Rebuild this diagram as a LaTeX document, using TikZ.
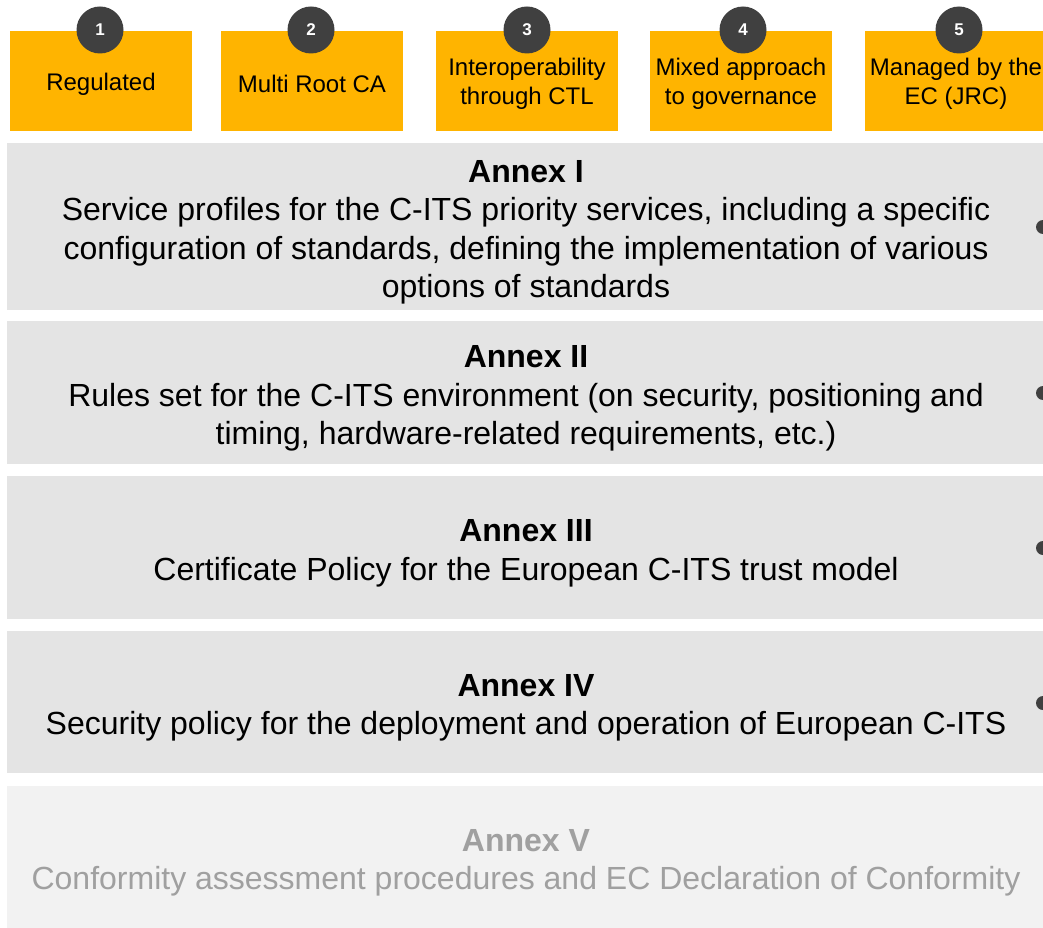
\documentclass[tikz,border=0pt]{standalone}
\usepackage{fontspec}
\setmainfont{Liberation Sans}
\definecolor{ambr}{HTML}{FFB400}
\definecolor{darkc}{HTML}{404040}
\definecolor{bandg}{HTML}{E4E4E4}
\definecolor{bandl}{HTML}{F2F2F2}
\definecolor{fadet}{HTML}{A0A0A0}
\tikzset{
  topbox/.style={fill=ambr, draw=none, minimum width=182pt, minimum height=100pt, inner sep=0pt},
  toptext/.style={inner sep=0pt, align=center, font=\fontsize{24}{28.8}\selectfont},
  numc/.style={circle, fill=darkc, draw=none, minimum size=47pt, inner sep=0pt, text=white, font=\fontsize{17}{17}\selectfont\bfseries},
  band/.style={fill=bandg, draw=none, minimum width=1046pt, inner sep=0pt},
  bandfade/.style={band, fill=bandl},
  bandtext/.style={inner sep=0pt, align=center, font=\fontsize{32}{38.4}\selectfont},
  sidedot/.style={circle, fill=darkc, draw=none, minimum size=14pt, inner sep=0pt},
}
\begin{document}
\begin{tikzpicture}[x=1pt,y=-1pt]
\useasboundingbox (0,0) rectangle (1043,928);
\clip (0,0) rectangle (1043,928);
\fill[white] (0,0) rectangle (1043,928);
% top boxes
\node[topbox] (t1) at (101,81) {};
\node[topbox] (t2) at (312,81) {};
\node[topbox] (t3) at (527,81) {};
\node[topbox] (t4) at (741,81) {};
\node[topbox] (t5) at (956,81) {};
\node[toptext] (tt1) at ([yshift=-3pt]t1.center) {Regulated};
\node[toptext] (tt2) at ([yshift=-3pt]t2.center) {Multi Root CA};
\node[toptext] (tt3) at ([yshift=-3pt]t3.center) {Interoperability\\through CTL};
\node[toptext] (tt4) at ([yshift=-3pt]t4.center) {Mixed approach\\to governance};
\node[toptext] (tt5) at ([yshift=-3pt]t5.center) {Managed by the\\EC (JRC)};
\node[numc] (n1) at (100,30) {1};
\node[numc] (n2) at (311,30) {2};
\node[numc] (n3) at (527,30) {3};
\node[numc] (n4) at (743,30) {4};
\node[numc] (n5) at (959,30) {5};
% bands
\node[band, minimum height=167pt] (b1) at (530,226.5) {};
\node[band, minimum height=143pt] (b2) at (530,392.5) {};
\node[band, minimum height=143pt] (b3) at (530,547.5) {};
\node[band, minimum height=142pt] (b4) at (530,702) {};
\node[bandfade, minimum height=142pt] (b5) at (530,857) {};
\node[bandtext] (l1) at ([xshift=-4pt,yshift=-6pt]b1.center) {\textbf{Annex I}\\Service profiles for the C-ITS priority services, including a specific\\configuration of standards, defining the implementation of various\\options of standards};
\node[bandtext] (l2) at ([xshift=-4pt,yshift=-6pt]b2.center) {\textbf{Annex II}\\Rules set for the C-ITS environment (on security, positioning and\\timing, hardware-related requirements, etc.)};
\node[bandtext] (l3) at ([xshift=-4pt,yshift=-6pt]b3.center) {\textbf{Annex III}\\Certificate Policy for the European C-ITS trust model};
\node[bandtext] (l4) at ([xshift=-4pt,yshift=-6pt]b4.center) {\textbf{Annex IV}\\Security policy for the deployment and operation of European C-ITS};
\node[bandtext, text=fadet] (l5) at ([xshift=-4pt,yshift=-6pt]b5.center) {\textbf{Annex V}\\Conformity assessment procedures and EC Declaration of Conformity};
% side dots
\node[sidedot] (d1) at (1043,227) {};
\node[sidedot] (d2) at (1043,393) {};
\node[sidedot] (d3) at (1043,548) {};
\node[sidedot] (d4) at (1043,703) {};
\end{tikzpicture}
\end{document}
